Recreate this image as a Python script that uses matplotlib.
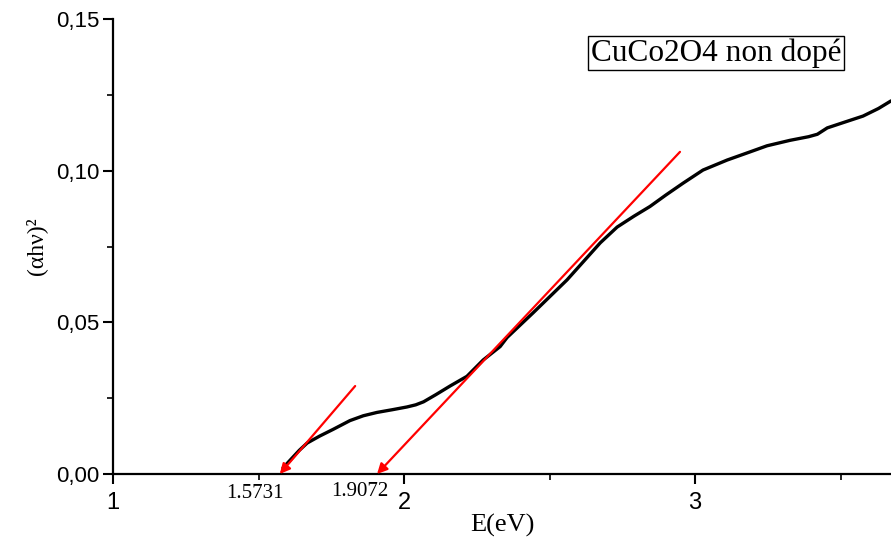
import matplotlib
matplotlib.use('Agg')
import matplotlib.pyplot as plt
from matplotlib.ticker import FixedLocator, FuncFormatter

# (alpha h nu)^2 vs E
energy = [1.584, 1.608, 1.640, 1.667, 1.710, 1.756, 1.814, 1.860, 1.907, 1.960,
          2.010, 2.040, 2.067, 2.110, 2.158, 2.216, 2.272, 2.330, 2.354, 2.443,
          2.560, 2.674, 2.732, 2.790, 2.845, 2.900, 2.959, 3.027, 3.110, 3.189,
          3.247, 3.326, 3.390, 3.420, 3.454, 3.520, 3.577, 3.630, 3.673]
alpha_hv2 = [0.0020, 0.0045, 0.0078, 0.0102, 0.0125, 0.0147, 0.0176, 0.0192, 0.0203, 0.0212,
             0.0221, 0.0228, 0.0238, 0.0262, 0.0290, 0.0322, 0.0376, 0.0420, 0.0450, 0.0531,
             0.0640, 0.0762, 0.0814, 0.0850, 0.0882, 0.0920, 0.0959, 0.1002, 0.1035, 0.1062,
             0.1082, 0.1100, 0.1112, 0.1120, 0.1141, 0.1162, 0.1180, 0.1205, 0.1230]

# tangent lines: (start E, start y) -> gap value on the E axis
tangents = [(1.832, 0.0290, 1.5731), (2.948, 0.1062, 1.9072)]
gap_labels = ['1.5731', '1.9072']

serif = ['Liberation Serif', 'DejaVu Serif']
sans = ['Liberation Sans', 'DejaVu Sans']

fig = plt.figure(figsize=(8.91, 5.38), dpi=100)
ax = fig.add_axes([113 / 891, 1 - 474 / 538, 1 - 113 / 891, (474 - 19) / 538])

ax.plot(energy, alpha_hv2, color='black', lw=2.4, solid_capstyle='round', solid_joinstyle='round')

for (x0, y0, eg), lab in zip(tangents, gap_labels):
    ax.annotate('', xy=(eg, 0), xytext=(x0, y0),
                arrowprops=dict(arrowstyle='-|>', color='red', lw=1.6,
                                mutation_scale=15, shrinkA=0, shrinkB=0))

ax.text(1.488, -0.0034, gap_labels[0], ha='center', va='top', fontsize=15, family=serif)
ax.text(1.849, -0.0026, gap_labels[1], ha='center', va='top', fontsize=15, family=serif)

ax.set_xlim(1, 3.673)
ax.set_ylim(0, 0.15)
ax.spines['top'].set_visible(False)
ax.spines['right'].set_visible(False)
ax.spines['left'].set_linewidth(1.6)
ax.spines['bottom'].set_linewidth(1.6)

ax.xaxis.set_major_locator(FixedLocator([1, 2, 3]))
ax.xaxis.set_minor_locator(FixedLocator([1.5, 2.5, 3.5]))
ax.yaxis.set_major_locator(FixedLocator([0, 0.05, 0.10, 0.15]))
ax.yaxis.set_minor_locator(FixedLocator([0.025, 0.075, 0.125]))
ax.yaxis.set_major_formatter(FuncFormatter(lambda v, p: ('%.2f' % v).replace('.', ',')))
ax.tick_params(which='major', direction='out', length=7, width=1.5)
ax.tick_params(which='minor', direction='out', length=4, width=1.2)
ax.tick_params(axis='x', which='major', pad=6, labelsize=17)
ax.tick_params(axis='y', which='major', pad=3, labelsize=16)
for lab in ax.get_xticklabels() + ax.get_yticklabels():
    lab.set_family(sans)

ax.set_xlabel('E(eV)', fontsize=19, family=serif, labelpad=0)
ax.set_ylabel('(αhν)²', fontsize=17, family=serif, labelpad=6)

ax.text(0.775, 0.925, 'CuCo2O4 non dopé', transform=ax.transAxes, ha='center', va='center',
        fontsize=22.5, family=serif,
        bbox=dict(boxstyle='square,pad=0.08', fc='white', ec='black', lw=1))

plt.savefig('out.png', dpi=100)
